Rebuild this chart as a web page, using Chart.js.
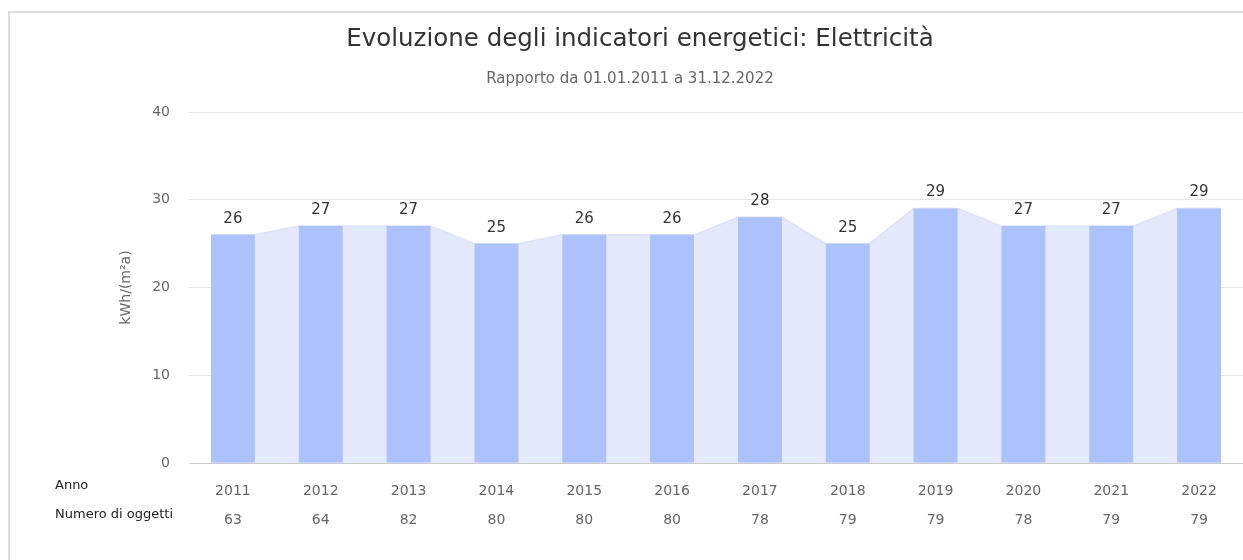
<!DOCTYPE html>
<html>
<head>
<meta charset="utf-8">
<script src="https://cdn.jsdelivr.net/npm/chart.js@4/dist/chart.umd.min.js"></script>
<style>
  html, body { margin: 0; padding: 0; background: #fff; }
  #wrap { position: relative; width: 1243px; height: 560px; }
  #frame { position: absolute; left: 8px; top: 11px; right: 0; bottom: 0; border-top: 2px solid #dddddd; border-left: 2px solid #dddddd; }
  canvas { position: absolute; left: 0; top: 0; }
</style>
</head>
<body>
<div id="wrap">
  <div id="frame"></div>
  <canvas id="chart" width="1243" height="560"></canvas>
</div>
<script>
const years = ["2011", "2012", "2013", "2014", "2015", "2016", "2017", "2018", "2019", "2020", "2021", "2022"];
const values = [26, 27, 27, 25, 26, 26, 28, 25, 29, 27, 27, 29];
const counts = [63, 64, 82, 80, 80, 80, 78, 79, 79, 78, 79, 79];
const yTicks = [0, 10, 20, 30, 40];

const titleText = "Evoluzione degli indicatori energetici: Elettricità";
const subtitleText = "Rapporto da 01.01.2011 a 31.12.2022";
const yTitle = "kWh/(m²a)";
const rowHeaders = ["Anno", "Numero di oggetti"];

const FONT = "'DejaVu Sans', sans-serif";

// area behind bars: flat top over each bar, joined corner to corner
const areaPoints = [];
values.forEach((v, i) => {
  areaPoints.push({ x: i - 0.25, y: v });
  areaPoints.push({ x: i + 0.25, y: v });
});

const textPlugin = {
  id: "texts",
  afterDraw(chart) {
    const ctx = chart.ctx;
    ctx.save();
    ctx.textBaseline = "middle";
    ctx.textAlign = "center";
    ctx.fillStyle = "#333333";
    ctx.font = "24.5px " + FONT;
    ctx.fillText(titleText, 640, 40);
    ctx.fillStyle = "#666666";
    ctx.font = "15px " + FONT;
    ctx.fillText(subtitleText, 630, 79);

    ctx.textAlign = "left";
    ctx.fillStyle = "#222222";
    ctx.font = "13px " + FONT;
    ctx.fillText(rowHeaders[0], 55, 486);
    ctx.fillText(rowHeaders[1], 55, 515);

    // value labels above bars
    const meta = chart.getDatasetMeta(1);
    ctx.textAlign = "center";
    ctx.fillStyle = "#333333";
    ctx.font = "15px " + FONT;
    meta.data.forEach((bar, i) => {
      ctx.fillText(String(values[i]), bar.x, bar.y - 16);
    });
    ctx.restore();
  }
};

new Chart(document.getElementById("chart"), {
  data: {
    labels: years.map((y, i) => [y, String(counts[i])]),
    datasets: [
      {
        type: "line",
        data: areaPoints,
        xAxisID: "xa",
        fill: "origin",
        backgroundColor: "#e3e8fb",
        borderColor: "#dbe2fa",
        borderWidth: 1.5,
        pointRadius: 0,
        tension: 0,
        order: 2
      },
      {
        type: "bar",
        data: values,
        xAxisID: "x",
        backgroundColor: "#adc2fb",
        grouped: false,
        barPercentage: 1,
        categoryPercentage: 0.5,
        order: 1
      }
    ]
  },
  options: {
    responsive: false,
    animation: false,
    layout: { padding: { top: 112, right: 0, bottom: 0, left: 0 } },
    plugins: {
      legend: { display: false },
      tooltip: { enabled: false }
    },
    scales: {
      x: {
        type: "category",
        grid: { display: false },
        border: { color: "#cccccc" },
        ticks: {
          color: "#666666",
          font: { family: FONT, size: 14, lineHeight: 2.07 },
          padding: 6,
          maxRotation: 0,
          autoSkip: false
        },
        afterFit(scale) { scale.height = 97; }
      },
      xa: {
        type: "linear",
        display: false,
        min: -0.5,
        max: 11.5
      },
      y: {
        min: 0,
        max: 40,
        afterBuildTicks(scale) { scale.ticks = yTicks.map(v => ({ value: v })); },
        grid: { color: "#e6e6e6", drawTicks: false },
        border: { display: false },
        ticks: {
          color: "#666666",
          font: { family: FONT, size: 14 },
          padding: 19
        },
        title: {
          display: true,
          text: yTitle,
          color: "#666666",
          font: { family: FONT, size: 14 },
          padding: { top: 118, bottom: 0 }
        },
        afterFit(scale) { scale.width = 189; }
      }
    }
  },
  plugins: [textPlugin]
});
</script>
</body>
</html>
